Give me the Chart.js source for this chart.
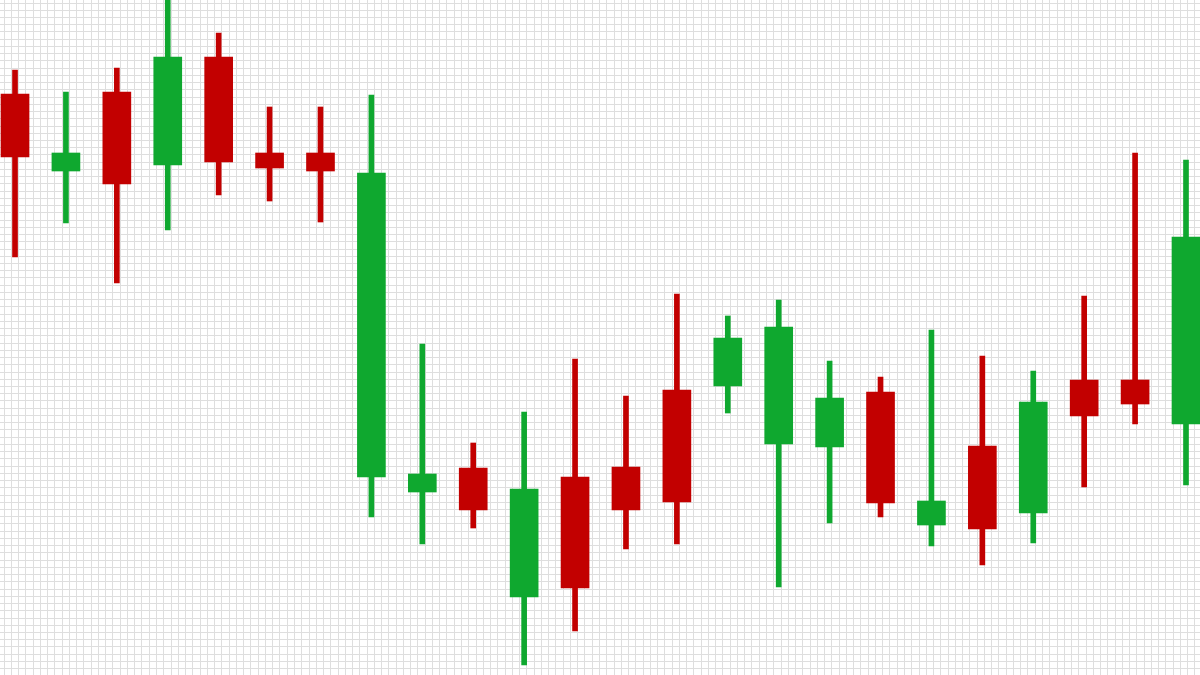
<!DOCTYPE html>
<html>
<head>
<meta charset="utf-8">
<title>Candles</title>
<script src="https://cdn.jsdelivr.net/npm/chart.js@4.4.1/dist/chart.umd.min.js"></script>
<style>
    html, body { margin: 0; padding: 0; background: #ffffff; }
    #box { width: 1200px; height: 675px; position: relative; }
</style>
</head>
<body>
<div id="box"><canvas id="grafico"></canvas></div>
<script>
// ===== DATA =====
const opens  = [581, 504, 583, 510, 618, 522, 522, 198, 183, 207, 78, 198, 208, 285, 289, 231, 228, 283, 150, 229, 162, 295, 295, 251];
const closes = [518, 522, 491, 618, 513, 507, 504, 502, 201, 165, 186, 87, 165, 173, 337, 348, 277, 172, 174, 146, 273, 259, 271, 438];
const highs  = [605, 583, 607, 682, 642, 568, 568, 580, 331, 232, 263, 316, 279, 381, 359, 375, 314, 298, 345, 319, 304, 379, 522, 515];
const lows   = [418, 452, 392, 445, 480, 474, 453, 158, 131, 147, 10, 44, 126, 131, 262, 88, 152, 158, 129, 110, 132, 188, 251, 190];

const UP = "#0fa82f";
const DOWN = "#c20000";

document.addEventListener("DOMContentLoaded", function () {

    const cores = opens.map((o, i) => closes[i] >= o ? UP : DOWN);
    const corpos = opens.map((o, i) => ({ x: i, y: [o, closes[i]] }));
    const pavios = lows.map((l, i) => ({ x: i, y: [l, highs[i]] }));

    // ===== CHART =====
    new Chart(document.getElementById("grafico"), {
        type: "bar",
        data: {
            datasets: [
                {
                    label: "body",
                    data: corpos,
                    backgroundColor: cores,
                    borderWidth: 0,
                    barThickness: 28,
                    grouped: false,
                    order: 0
                },
                {
                    label: "wick",
                    data: pavios,
                    backgroundColor: cores,
                    borderWidth: 0,
                    barThickness: 5,
                    grouped: false,
                    order: 1
                }
            ]
        },
        options: {
            responsive: true,
            maintainAspectRatio: false,
            animation: false,
            layout: { padding: 0 },
            plugins: {
                legend: { display: false },
                tooltip: { enabled: false }
            },
            scales: {
                x: {
                    type: "linear",
                    min: -0.295,
                    max: 23.275,
                    offset: false,
                    display: false,
                    grid: { offset: false }
                },
                y: {
                    min: 0,
                    max: 675,
                    display: false
                },
                // background grid
                gx: {
                    type: "linear",
                    axis: "x",
                    position: "bottom",
                    min: -0.551,
                    max: 164.69,
                    offset: false,
                    ticks: { display: false, stepSize: 1, includeBounds: false },
                    grid: { color: "#dedede", lineWidth: 1, drawTicks: false, offset: false },
                    border: { display: false }
                },
                gy: {
                    type: "linear",
                    axis: "y",
                    position: "left",
                    reverse: true,
                    min: -0.415,
                    max: 92.87,
                    beginAtZero: false,
                    ticks: { display: false, stepSize: 1, includeBounds: false },
                    grid: { color: "#dedede", lineWidth: 1, drawTicks: false },
                    border: { display: false }
                }
            }
        }
    });

});
</script>
</body>
</html>
